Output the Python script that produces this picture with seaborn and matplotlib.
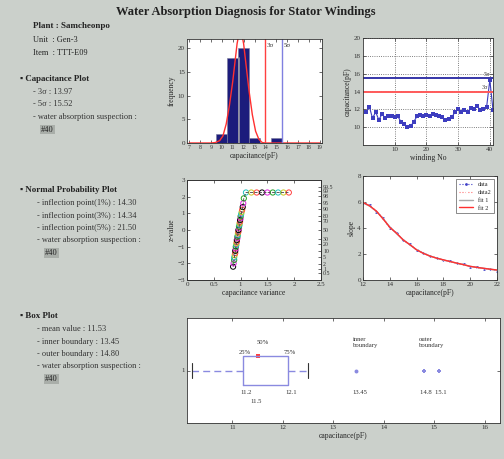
import matplotlib
matplotlib.use('Agg')
import matplotlib.pyplot as plt
import seaborn as sns
import pandas as pd
from statistics import NormalDist

# ---------------- data ----------------
hist_centers = [10, 11, 12, 13, 15]
hist_counts = [2, 18, 20, 1, 1]
curve_x = [7, 9.0, 9.4, 9.8, 10.1, 10.4, 10.7, 11.0, 11.2, 11.4, 11.6, 11.8, 12.0, 12.2, 12.5, 12.8, 13.1, 13.4, 13.7, 14.0, 19]
curve_y = [0, 0, 0.1, 0.5, 1.5, 4.0, 8.0, 13.0, 17.0, 21.0, 23.5, 23.5, 21.0, 17.0, 11.0, 6.0, 2.5, 0.8, 0.1, 0, 0]
mean_cap = 11.55
sigma3 = 13.97
sigma5 = 15.52

winding = list(range(1, 42))
cap_by_winding = [11.7, 12.3, 11.0, 11.7, 10.8, 11.5, 11.0, 11.2, 11.3, 11.1,
                  11.2, 10.6, 10.3, 10.0, 10.1, 10.6, 11.2, 11.4, 11.3, 11.4,
                  11.3, 11.5, 11.4, 11.3, 11.1, 10.8, 10.9, 11.1, 11.7, 12.0,
                  11.7, 11.9, 11.7, 12.1, 12.0, 12.4, 11.9, 12.0, 12.3, 15.3, 11.9]

np_x = [0.86, 0.87, 0.88, 0.88, 0.89, 0.90, 0.90, 0.91, 0.91, 0.92, 0.92, 0.93, 0.93, 0.94, 0.94,
        0.95, 0.95, 0.96, 0.96, 0.97, 0.97, 0.98, 0.98, 0.99, 0.99, 1.00, 1.00, 1.01, 1.02, 1.03,
        1.04, 1.05, 1.06, 1.10, 1.20, 1.30, 1.40, 1.50, 1.60, 1.70, 1.80, 1.90]
np_y = [-2.2, -2.0, -1.8, -1.65, -1.5, -1.38, -1.25, -1.12, -1.0, -0.9, -0.8, -0.7, -0.6, -0.5, -0.4,
        -0.3, -0.2, -0.1, 0.0, 0.1, 0.2, 0.3, 0.4, 0.5, 0.6, 0.7, 0.82, 0.95, 1.08, 1.22,
        1.38, 1.6, 1.9, 2.25, 2.25, 2.25, 2.25, 2.25, 2.25, 2.25, 2.25, 2.25]
prob_labels = [0.5, 1, 2, 5, 10, 20, 30, 50, 70, 80, 90, 95, 98, 99, 99.5]

slope_x = [12, 12.5, 13, 13.5, 14, 14.5, 15, 15.5, 16, 16.5, 17, 17.5, 18, 18.5, 19, 19.5, 20, 20.5, 21, 21.5, 22]
slope_data1 = [5.95, 5.75, 5.25, 4.75, 4.0, 3.65, 3.05, 2.75, 2.3, 2.1, 1.82, 1.7, 1.52, 1.45, 1.28, 1.2, 1.02, 0.99, 0.88, 0.85, 0.72]
slope_data2 = [5.9, 5.7, 5.3, 4.7, 4.1, 3.6, 3.1, 2.7, 2.35, 2.05, 1.86, 1.66, 1.56, 1.4, 1.3, 1.16, 1.06, 0.96, 0.9, 0.82, 0.76]
slope_fit1 = [5.95, 5.68, 5.28, 4.72, 4.08, 3.58, 3.1, 2.7, 2.33, 2.06, 1.85, 1.68, 1.54, 1.42, 1.29, 1.18, 1.05, 0.97, 0.9, 0.83, 0.76]
slope_fit2 = [5.97, 5.7, 5.3, 4.7, 4.05, 3.6, 3.08, 2.72, 2.32, 2.05, 1.84, 1.68, 1.55, 1.42, 1.3, 1.18, 1.05, 0.97, 0.9, 0.83, 0.77]
slope_labels = ['data', 'data2', 'fit 1', 'fit 2']

box_q1, box_med, box_q3 = 11.2, 11.5, 12.1
box_lo, box_hi = 10.2, 12.5
inner_pts = [13.45]
outer_pts = [14.8, 15.1]

info_lines = ["Plant : Samcheonpo", "Unit  : Gen-3", "Item  : TTT-E09"]
cap_text = ["- 3\u03c3 : 13.97", "- 5\u03c3 : 15.52", "- water absorption suspection :"]
npp_text = ["- inflection point(1%) : 14.30", "- inflection point(3%) : 14.34",
            "- inflection point(5%) : 21.50", "- water absorption suspection :"]
box_text = ["- mean value : 11.53", "- inner boundary : 13.45", "- outer boundary : 14.80",
            "- water absorption suspection :"]
suspect = "#40"

# ---------------- style ----------------
sns.set_theme(style='white')
plt.rcParams['font.family'] = ['Liberation Serif', 'DejaVu Serif']
plt.rcParams.update({
    'xtick.direction': 'in', 'ytick.direction': 'in',
    'xtick.top': True, 'ytick.right': True,
    'xtick.bottom': True, 'ytick.left': True,
    'xtick.major.size': 2, 'ytick.major.size': 2,
    'xtick.major.width': 0.5, 'ytick.major.width': 0.5,
    'xtick.major.pad': 1.5, 'ytick.major.pad': 1.5,
    'xtick.labelsize': 5, 'ytick.labelsize': 5,
    'axes.labelsize': 5.5, 'axes.linewidth': 0.6,
    'axes.edgecolor': '#333333', 'axes.labelpad': 1.5,
    'xtick.color': '#333333', 'ytick.color': '#333333',
})

BG = '#cbd0cb'
fig = plt.figure(figsize=(5.04, 4.59), dpi=100, facecolor=BG)

fig.text(0.487, 0.974, "Water Absorption Diagnosis for Stator Windings", ha='center', va='center',
         fontsize=9, fontweight='bold', color='#222222')

# left text panel
fs = 6.0
fig.text(33/504, 1-26/459, info_lines[0], fontsize=6.5, fontweight='bold', va='center', color='#222222')
fig.text(33/504, 1-40/459, info_lines[1], fontsize=fs, va='center', color='#222222')
fig.text(33/504, 1-53/459, info_lines[2], fontsize=fs, va='center', color='#222222')

def section(y0, title, lines, indent):
    fig.text(20/504, 1-y0/459, "\u25aa " + title, fontsize=6.4, fontweight='bold', va='center', color='#222222')
    y = y0 + 13
    for ln in lines:
        fig.text(indent/504, 1-y/459, ln, fontsize=fs, va='center', color='#333333')
        y += 12.5
    fig.text((indent + 8)/504, 1-y/459, suspect, fontsize=fs, va='center', color='#222222',
             bbox=dict(facecolor='#a9aea9', edgecolor='none', pad=0.6))

section(79, "Capacitance Plot", cap_text, 33)
section(190, "Normal Probability Plot", npp_text, 37)
section(316, "Box Plot", box_text, 37)

# ---------------- histogram ----------------
ax1 = fig.add_axes([187/504, 1-143/459, 135/504, 104/459])
sns.histplot(x=hist_centers, weights=hist_counts, binwidth=1, binrange=(9.5, 15.5),
             color='#1c1c7c', edgecolor='#7a7a9a', linewidth=0.4, alpha=1, ax=ax1)
sns.lineplot(x=curve_x, y=curve_y, color='#ff3030', linewidth=1.0, ax=ax1)
ax1.plot([mean_cap, mean_cap], [0, 18], color='#9a9aa8', linewidth=1.2)
ax1.axvline(sigma3, color='#ff4040', linewidth=1.0)
ax1.axvline(sigma5, color='#8080e0', linewidth=1.0)
ax1.text(sigma3 + 0.15, 20.3, "3\u03c3", fontsize=5, color='#333333')
ax1.text(sigma5 + 0.15, 20.3, "5\u03c3", fontsize=5, color='#333333')
ax1.set_xlim(6.8, 19.2)
ax1.set_ylim(0, 22)
ax1.set_xticks(range(7, 20))
ax1.set_yticks([0, 5, 10, 15, 20])
ax1.tick_params(axis='x', labelsize=4.2)
ax1.set_xlabel("capacitance(pF)")
ax1.set_ylabel("frequency")

# ---------------- per-winding capacitance ----------------
ax2 = fig.add_axes([363/504, 1-145/459, 130/504, 107/459])
sns.lineplot(x=winding, y=cap_by_winding, color='#3d3dbf', marker='s', markersize=2.2,
             markeredgewidth=0, linewidth=0.8, ax=ax2)
ax2.axhline(sigma5, color='#3535a8', linewidth=1.4)
ax2.axhline(sigma3, color='#ff5a5a', linewidth=1.4)
ax2.text(38.2, sigma5 + 0.25, "5\u03c3", fontsize=4.5, color='#333333')
ax2.text(37.3, sigma3 + 0.3, "3\u03c3", fontsize=4.5, color='#333333')
ax2.set_xlim(0, 41)
ax2.set_ylim(8, 20)
ax2.set_xticks([10, 20, 30, 40])
ax2.set_yticks([10, 12, 14, 16, 18, 20])
ax2.grid(True, linestyle=':', color='#555555', linewidth=0.6)
ax2.set_xlabel("winding No")
ax2.set_ylabel("capacitance(pF)")

# ---------------- normal probability plot ----------------
ax3 = fig.add_axes([187/504, 1-280/459, 134/504, 100/459])
np_palette = ['#000000', '#e020e0', '#20a020', '#20c0c0', '#c8c820', '#ff4040']
groups = [i % 6 for i in range(len(np_x))]
df_np = pd.DataFrame({'x': np_x, 'y': np_y, 'g': groups})
sns.lineplot(data=df_np, x='x', y='y', color='#444444', linewidth=0.6, linestyle='--',
             sort=False, ax=ax3)
sns.scatterplot(data=df_np, x='x', y='y', hue='g', palette=np_palette,
                marker='o', s=14, linewidth=0.7, legend=False, ax=ax3)
for c in ax3.collections:
    c.set_facecolor('none')
    c.set_edgecolors([plt.matplotlib.colors.to_rgba(np_palette[g]) for g in groups])
ax3.set_xlim(0, 2.5)
ax3.set_ylim(-3, 3)
ax3.set_xticks([0, 0.5, 1, 1.5, 2, 2.5])
ax3.set_xticklabels(["0", "0.5", "1", "1.5", "2", "2.5"])
ax3.set_yticks([-3, -2, -1, 0, 1, 2, 3])
ax3.tick_params(right=False)
ax3.set_xlabel("capacitance variance")
ax3.set_ylabel("z-value")
ax3b = ax3.twinx()
ax3b.set_ylim(-3, 3)
ax3b.set_yticks([NormalDist().inv_cdf(p / 100) for p in prob_labels])
ax3b.set_yticklabels([f"{p:g}" for p in prob_labels], fontsize=4.2)
ax3b.tick_params(direction='in', length=2)
ax3b.grid(False)

# ---------------- slope curve ----------------
ax4 = fig.add_axes([363/504, 1-280/459, 134/504, 104/459])
sns.lineplot(x=slope_x, y=slope_data1, color='#4040c8', marker='o', markersize=2, markeredgewidth=0,
             linestyle=':', linewidth=0.8, label=slope_labels[0], ax=ax4)
sns.lineplot(x=slope_x, y=slope_data2, color='#ff7070', marker='x', markersize=2, markeredgewidth=0.5,
             linestyle=':', linewidth=0.8, label=slope_labels[1], ax=ax4)
sns.lineplot(x=slope_x, y=slope_fit1, color='#a8a8a8', linewidth=1.0, label=slope_labels[2], ax=ax4)
sns.lineplot(x=slope_x, y=slope_fit2, color='#ff3030', linewidth=1.0, label=slope_labels[3], ax=ax4)
ax4.set_xlim(12, 22)
ax4.set_ylim(0, 8)
ax4.set_xticks([12, 14, 16, 18, 20, 22])
ax4.set_yticks([0, 2, 4, 6, 8])
ax4.set_xlabel("capacitance(pF)")
ax4.set_ylabel("slope")
leg = ax4.legend(loc='upper right', fontsize=4.5, frameon=True, fancybox=False, edgecolor='#333333',
                 handlelength=2.2, borderpad=0.4, labelspacing=0.4)
leg.get_frame().set_linewidth(0.5)

# ---------------- box plot ----------------
ax5 = fig.add_axes([187/504, 1-423/459, 313/504, 105/459])
stats = [dict(med=box_med, q1=box_q1, q3=box_q3, whislo=box_lo, whishi=box_hi, fliers=[])]
ax5.bxp(stats, positions=[1], widths=0.27, vert=False, showfliers=False,
        boxprops=dict(color='#8a8ae0', linewidth=1.0),
        whiskerprops=dict(color='#8a8ae0', linewidth=1.0, linestyle=(0, (5, 3))),
        capprops=dict(color='#333333', linewidth=0.8),
        medianprops=dict(linewidth=0))
sns.scatterplot(x=[box_med], y=[1.135], color='#ff4040', marker='s', s=5, linewidth=0, ax=ax5)
sns.scatterplot(x=inner_pts, y=[1.0] * len(inner_pts), color='#8a8ae0', marker='o', s=8, linewidth=0, ax=ax5)
sns.scatterplot(x=outer_pts, y=[1.0] * len(outer_pts), color='#8a8ae0', marker='P', s=10, linewidth=0, ax=ax5)
tfs = 4.8
ax5.text(box_q1 - 0.08, 1.16, "25%", fontsize=tfs, color='#333333')
ax5.text(box_med - 0.02, 1.25, "50%", fontsize=tfs, color='#333333')
ax5.text(box_q3 - 0.08, 1.16, "75%", fontsize=tfs, color='#333333')
ax5.text(box_q1 - 0.05, 0.78, f"{box_q1:g}", fontsize=tfs, color='#333333')
ax5.text(box_med - 0.15, 0.69, f"{box_med:g}", fontsize=tfs, color='#333333')
ax5.text(box_q3 - 0.05, 0.78, f"{box_q3:g}", fontsize=tfs, color='#333333')
ax5.text(13.38, 1.22, "inner\nboundary", fontsize=tfs, color='#333333', linespacing=1.3)
ax5.text(13.38, 0.78, f"{inner_pts[0]:g}", fontsize=tfs, color='#333333')
ax5.text(14.7, 1.22, "outer\nboundary", fontsize=tfs, color='#333333', linespacing=1.3)
ax5.text(14.72, 0.78, "  ".join(f"{v:g}" for v in outer_pts), fontsize=tfs, color='#333333')
ax5.set_xlim(10.1, 16.3)
ax5.set_ylim(0.5, 1.5)
ax5.set_xticks([11, 12, 13, 14, 15, 16])
ax5.set_yticks([1])
ax5.set_yticklabels(["1"])
ax5.set_xlabel("capacitance(pF)")

for a in [ax1, ax2, ax3, ax4, ax5]:
    a.set_facecolor('white')
    for s in a.spines.values():
        s.set_visible(True)

fig.savefig('out.png', dpi=100, facecolor=BG)
